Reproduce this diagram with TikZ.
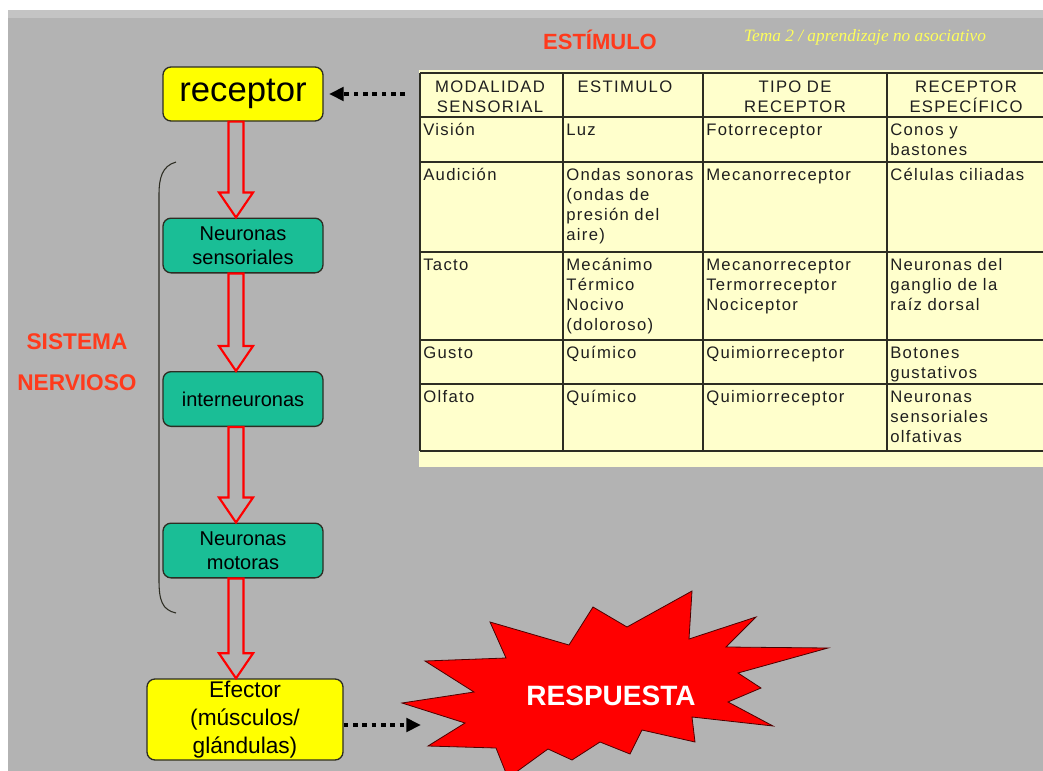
\documentclass[tikz,border=0pt]{standalone}
\usepackage{fontspec}
\setmainfont{Liberation Sans}
\newfontfamily\tablafont[LetterSpace=8]{Liberation Sans}
\newfontfamily\temafont{Liberation Serif}
\usetikzlibrary{arrows.meta,calc,positioning}

\definecolor{fondo}{RGB}{179,179,179}
\definecolor{franja}{RGB}{196,196,196}
\definecolor{amarillo}{RGB}{255,255,0}
\definecolor{crema}{RGB}{255,255,204}
\definecolor{turquesa}{RGB}{26,190,150}
\definecolor{rojizo}{RGB}{255,58,28}
\definecolor{borde}{RGB}{45,45,35}

\tikzset{
  caja/.style={draw=borde, line width=1pt, rounded corners=6pt, align=center, inner sep=0pt, minimum width=120pt},
  cajaamarilla/.style={caja, fill=amarillo},
  cajaverde/.style={caja, fill=turquesa, minimum height=41pt, font=\fontsize{15}{18}\selectfont},
  hueca/.style={draw=red, line width=1.6pt, line join=miter},
  punteada/.style={line width=3pt, dash pattern=on 3.5pt off 3.5pt, -{Triangle[length=11pt,width=10pt]}},
  celda/.style={anchor=base west, inner sep=0pt, text width=150pt, align=left, text=black!88, font=\tablafont\fontsize{12.5}{15}\selectfont},
  cabecera/.style={celda, anchor=base, align=center},
  linea/.style={draw=borde, line width=1.1pt},
  titulo/.style={text=rojizo, font=\bfseries\fontsize{17}{21}\selectfont, align=center}
}

% flecha hueca de una caja a la siguiente
\newcommand{\hollowarrow}[2]{%
  \draw[hueca] let \p1=(eje |- #1.south), \p2=(eje |- #2.north) in
    (\x1-5.6pt,\y1) -- (\x1-5.6pt,\y2+18.8pt) -- (\x1-12.8pt,\y2+18.8pt) -- (\x2,\y2)
    -- (\x1+12.8pt,\y2+18.8pt) -- (\x1+5.6pt,\y2+18.8pt) -- (\x1+5.6pt,\y1) -- cycle;}

\begin{document}
\begin{tikzpicture}[x=0.75pt, y=-0.75pt]
\useasboundingbox (0,0) rectangle (1043,771);
\fill[fondo] (8,10) rectangle (1043,771);
\fill[franja] (8,10) rectangle (1043,18);

% titulos
\node[titulo, font=\bfseries\fontsize{16.5}{20}\selectfont] (estimulo) at (600,40) {ESTÍMULO};
\node[text={rgb,255:red,255;green,255;blue,90}, font=\temafont\itshape\fontsize{13}{16}\selectfont] (tema) at (865,37) {Tema 2 / aprendizaje no asociativo};

% cadena de cajas
\coordinate (eje) at (236,0);
\node[cajaamarilla, minimum height=40.5pt, font=\fontsize{26}{30}\selectfont] (receptor) at (243,94) {receptor};
\node[cajaverde] (sensoriales) at (243,245.5) {Neuronas\\sensoriales};
\node[cajaverde] (inter) at (243,399) {interneuronas};
\node[cajaverde] (motoras) at (243,550.5) {Neuronas\\motoras};
\node[cajaamarilla, minimum width=147pt, minimum height=60.75pt, font=\fontsize{17}{21}\selectfont] (efector) at (245,719.5) {Efector\\(músculos/\\glándulas)};

\hollowarrow{receptor}{sensoriales}
\hollowarrow{sensoriales}{inter}
\hollowarrow{inter}{motoras}
\hollowarrow{motoras}{efector}

% llave del sistema nervioso
\draw[borde, line width=0.8pt] (176,162) .. controls (162,166) and (159,178) .. (159,195)
  -- (159,580) .. controls (159,600) and (162,610) .. (176,613);
\node[titulo] (sistema) at (77,342) {SISTEMA};
\node[titulo] (nervioso) at (77,383) {NERVIOSO};

% tabla
\node[fill=crema, inner sep=0pt, minimum width=468pt, minimum height=297.75pt, anchor=north west] (tabla) at (419,70) {};
\foreach \y in {73,117,162,252,340,384,451}
  \draw[linea] (420,\y) -- (1043,\y);
\foreach \x in {420,563,703,887}
  \draw[linea] (\x,73) -- (\x,451);

\node[cabecera] (h1) at (490,92) {MODALIDAD\\SENSORIAL};
\node[cabecera] (h2) at (625,92) {ESTIMULO};
\node[cabecera] (h3) at (795,92) {TIPO DE\\RECEPTOR};
\node[cabecera] (h4) at (966,92) {RECEPTOR\\ESPECÍFICO};

\node[celda] (vision) at (423,135) {Visión};
\node[celda] (luz) at (566,135) {Luz};
\node[celda] (foto) at (706,135) {Fotorreceptor};
\node[celda] (conos) at (890,135) {Conos y\\bastones};

\node[celda] (audicion) at (423,180) {Audición};
\node[celda] (ondas) at (566,180) {Ondas sonoras\\(ondas de\\presión del\\aire)};
\node[celda] (mecano) at (706,180) {Mecanorreceptor};
\node[celda] (ciliadas) at (890,180) {Células ciliadas};

\node[celda] (tacto) at (423,270) {Tacto};
\node[celda] (mecanimo) at (566,270) {Mecánimo\\Térmico\\Nocivo\\(doloroso)};
\node[celda] (termo) at (706,270) {Mecanorreceptor\\Termorreceptor\\Nociceptor};
\node[celda] (ganglio) at (890,270) {Neuronas del\\ganglio de la\\raíz dorsal};

\node[celda] (gusto) at (423,358) {Gusto};
\node[celda] (quimico1) at (566,358) {Químico};
\node[celda] (quimio1) at (706,358) {Quimiorreceptor};
\node[celda] (botones) at (890,358) {Botones\\gustativos};

\node[celda] (olfato) at (423,402) {Olfato};
\node[celda] (quimico2) at (566,402) {Químico};
\node[celda] (quimio2) at (706,402) {Quimiorreceptor};
\node[celda] (olfativas) at (890,402) {Neuronas\\sensoriales\\olfativas};

% respuesta
\draw[fill=red, draw=black!70!red, line width=0.6pt] (402,703) -- (474,692) -- (425,661) -- (506,658)
  -- (490,622) -- (569,645) -- (593,607) -- (627,627) -- (692,591) -- (689,639) -- (756,617)
  -- (726,647) -- (828,648) -- (738,673) -- (761,688) -- (728,702) -- (773,726) -- (692,717)
  -- (695,742) -- (642,730) -- (630,754) -- (600,742) -- (572,760) -- (548,749) -- (508,778)
  -- (496,748) -- (428,746) -- (465,723) -- cycle;
\node[text=white, font=\bfseries\fontsize{21}{24}\selectfont] (respuesta) at (611,696) {RESPUESTA};
\coordinate (punta) at (421,725);

% flechas punteadas
\draw[punteada] ([xshift=-10.5pt]tabla.west |- receptor) -- ([xshift=4pt]receptor.east);
\draw[punteada] (efector.east |- punta) -- (punta);
\end{tikzpicture}
\end{document}
